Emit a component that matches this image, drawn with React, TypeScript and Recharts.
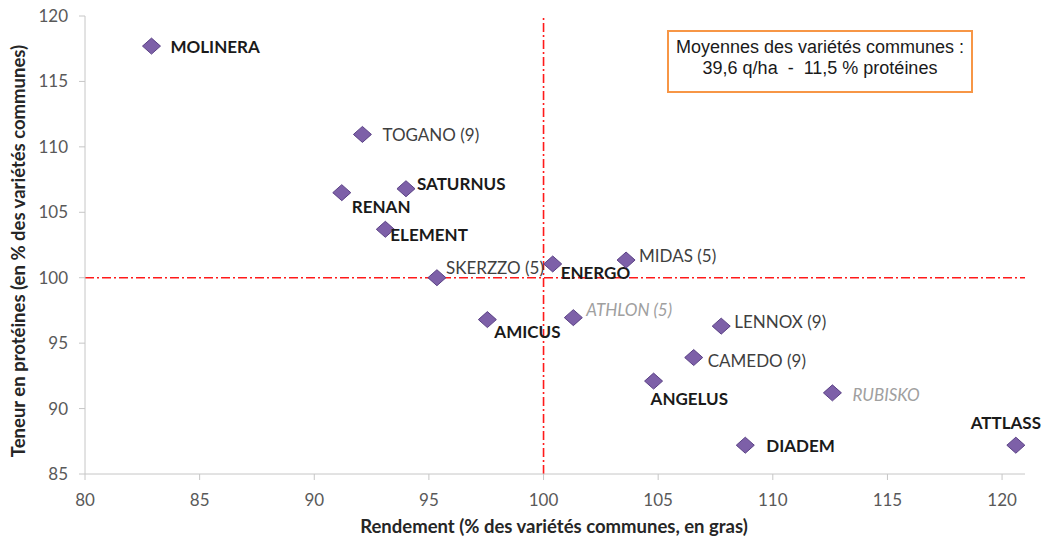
import { ScatterChart, Scatter, XAxis, YAxis, ReferenceLine, Label } from "recharts"

const varietes = [
  "MOLINERA", "TOGANO (9)", "SATURNUS", "RENAN", "ELEMENT", "SKERZZO (5)", "ENERGO", "MIDAS (5)",
  "AMICUS", "ATHLON (5)", "LENNOX (9)", "CAMEDO (9)", "ANGELUS", "RUBISKO", "DIADEM", "ATTLASS",
]
const rendement = [82.9, 92.1, 94.0, 91.2, 93.1, 95.35, 100.4, 103.6, 97.55, 101.3, 107.75, 106.55, 104.8, 112.6, 108.8, 120.6]
const proteines = [117.7, 110.95, 106.8, 106.5, 103.7, 100.0, 101.05, 101.35, 96.8, 96.95, 96.3, 93.9, 92.1, 91.2, 87.2, 87.2]
// commune = bold, suivie = regular, nouvelle = italic grey
const groupe = [
  "commune", "suivie", "commune", "commune", "commune", "suivie", "commune", "suivie",
  "commune", "nouvelle", "suivie", "suivie", "commune", "nouvelle", "commune", "commune",
]
const xTicks = [80, 85, 90, 95, 100, 105, 110, 115, 120]
const yTicks = [85, 90, 95, 100, 105, 110, 115, 120]

const data = varietes.map((name, i) => ({ name, x: rendement[i], y: proteines[i], groupe: groupe[i] }))

// label placement relative to the marker (dx, dy, anchor)
const placement: Record<string, [number, number, string]> = {
  "MOLINERA": [19, 0, "start"],
  "TOGANO (9)": [20, 0, "start"],
  "SATURNUS": [11, -5, "start"],
  "RENAN": [10, 14, "start"],
  "ELEMENT": [5, 5, "start"],
  "SKERZZO (5)": [9, -10, "start"],
  "ENERGO": [8, 9, "start"],
  "MIDAS (5)": [13, -5, "start"],
  "AMICUS": [7, 12, "start"],
  "ATHLON (5)": [13, -8, "start"],
  "LENNOX (9)": [13, -5, "start"],
  "CAMEDO (9)": [14, 3, "start"],
  "ANGELUS": [-3, 17, "start"],
  "RUBISKO": [20, 2, "start"],
  "DIADEM": [21, 0, "start"],
  "ATTLASS": [-10, -23, "middle"],
}

const font = "Lato, 'Open Sans', sans-serif"

function Diamond(props: any) {
  const { cx, cy, payload } = props
  const [dx, dy, anchor] = placement[payload.name] || [12, 0, "start"]
  const g = payload.groupe
  return (
    <g>
      <path
        d={`M${cx},${cy - 8} L${cx + 9},${cy} L${cx},${cy + 8} L${cx - 9},${cy} Z`}
        fill="#7d60a8"
        stroke="#5a4185"
        strokeWidth={1}
      />
      <text
        x={cx + dx}
        y={cy + dy}
        textAnchor={anchor as any}
        dominantBaseline="central"
        fontFamily={font}
        fontSize={17}
        fontWeight={g === "commune" ? 700 : 400}
        fontStyle={g === "nouvelle" ? "italic" : "normal"}
        fill={g === "commune" ? "#1a1a1a" : g === "nouvelle" ? "#a0a0a0" : "#3f3f3f"}
      >
        {payload.name}
      </text>
    </g>
  )
}

export default function App() {
  return (
    <div style={{ position: "absolute", left: 0, top: 0, width: 1044, height: 539, background: "#fff" }}>
      <ScatterChart width={1044} height={539} margin={{ top: 16, right: 19, bottom: 0, left: 0 }}>
        <XAxis
          type="number"
          dataKey="x"
          domain={[80, 121]}
          ticks={xTicks}
          height={65}
          stroke="#c6c6c6"
          tickSize={6}
          tickMargin={14}
          tick={{ fill: "#595959", fontSize: 17, fontFamily: font }}
        >
          <Label
            content={({ viewBox }: any) => (
              <text
                x={554}
                y={viewBox.y + 59}
                textAnchor="middle"
                fontFamily={font}
                fontSize={18.5}
                fontWeight={700}
                fill="#262626"
              >
                Rendement (% des variétés communes, en gras)
              </text>
            )}
          />
        </XAxis>
        <YAxis
          type="number"
          dataKey="y"
          domain={[85, 120]}
          ticks={yTicks}
          width={85}
          stroke="#c6c6c6"
          tickSize={6}
          tickMargin={11}
          tick={{ fill: "#595959", fontSize: 17, fontFamily: font }}
        >
          <Label
            content={({ viewBox }: any) => {
              const cy = 251
              return (
                <text
                  x={25}
                  y={cy}
                  transform={`rotate(-90, 25, ${cy})`}
                  textAnchor="middle"
                  fontFamily={font}
                  fontSize={18.5}
                  fontWeight={700}
                  fill="#262626"
                >
                  Teneur en protéines (en % des variétés communes)
                </text>
              )
            }}
          />
        </YAxis>
        <ReferenceLine y={100} stroke="#ff1a1a" strokeWidth={1.6} strokeDasharray="9 3 2 3" />
        <ReferenceLine x={100} stroke="#ff1a1a" strokeWidth={1.6} strokeDasharray="9 3 2 3" />
        <Scatter data={data} shape={Diamond} isAnimationActive={false} />
      </ScatterChart>
      <div
        style={{
          position: "absolute",
          left: 667,
          top: 30,
          width: 302,
          height: 54,
          border: "2px solid #f79646",
          fontFamily: "'Liberation Sans', Arial, sans-serif",
          fontSize: 18,
          color: "#1a1a1a",
          textAlign: "center",
          lineHeight: "21px",
          paddingTop: 5,
          boxSizing: "content-box",
        }}
      >
        <div>Moyennes des variétés communes :</div>
        <div>39,6 q/ha&nbsp;&nbsp;-&nbsp;&nbsp;11,5 % protéines</div>
      </div>
    </div>
  )
}
